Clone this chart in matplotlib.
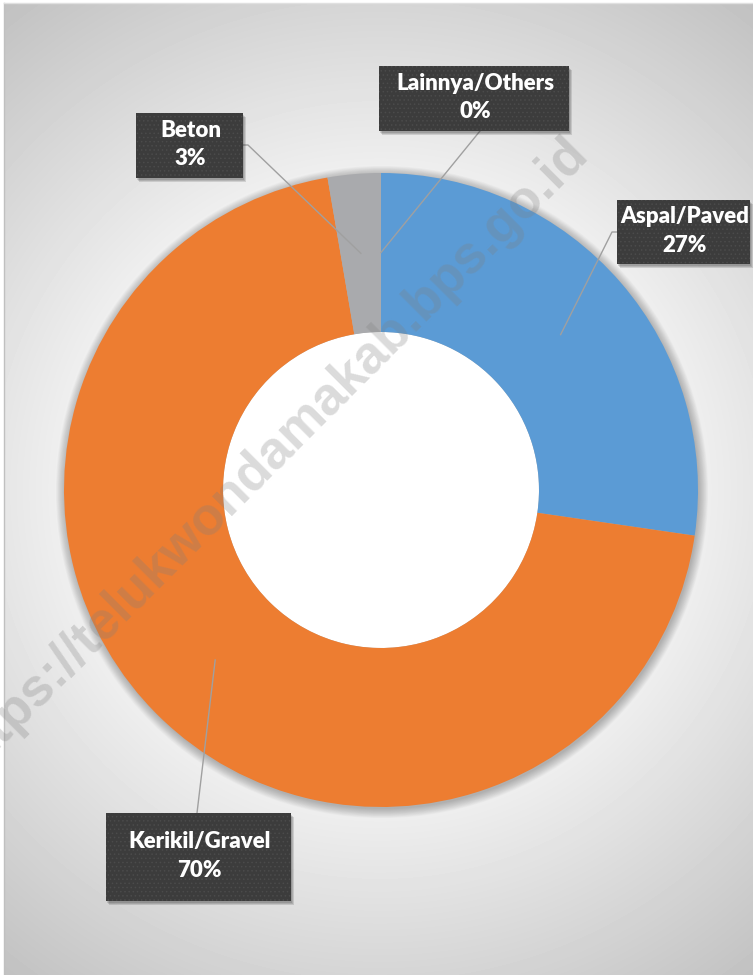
import matplotlib
matplotlib.use("Agg")
import matplotlib.pyplot as plt
import numpy as np
from matplotlib.patches import Rectangle, Circle

# road surface shares (percent), clockwise from 12 o'clock
labels = ["Aspal/Paved", "Kerikil/Gravel", "Beton", "Lainnya/Others"]
shares = [27.3, 70.0, 2.7, 0.0]
colors = ["#5B9BD5", "#ED7D31", "#A9AAAD", "#FFC000"]
watermark = "https://telukwondamakab.bps.go.id"

W, H = 753, 975
plt.rcParams["hatch.linewidth"] = 0.6


def Y(y):
    return H - y


fig = plt.figure(figsize=(W / 100, H / 100), dpi=100)
ax = fig.add_axes([0, 0, 1, 1])

# chart-area background: soft radial grey gradient
gx, gy = np.meshgrid(np.arange(4, W) + 0.5, np.arange(3, H) + 0.5)
t = np.clip((np.hypot(gx - 380, gy - 490) - 300) / 320, 0, 1)
ax.imshow((242 - 50 * t) / 255, cmap="gray", vmin=0, vmax=1, extent=(4, W, 0, Y(3)),
          origin="upper", interpolation="bilinear", zorder=0)
ax.plot([4, 4], [0, Y(3)], color="#c0c0c0", lw=1, zorder=1)
ax.plot([4, W], [Y(3), Y(3)], color="#e0e0e0", lw=1, zorder=1)

cx, cy, R, ring = 381, 490, 317, 159

# soft shadow around the ring
for k in range(14):
    ax.add_patch(Circle((cx + 1, Y(cy) - 2), R + 0.7 * k, color="black", alpha=0.018, lw=0, zorder=1))
ax.add_patch(Circle((cx, Y(cy)), R - ring, color="white", lw=0, zorder=1.5))

wedges, _ = ax.pie(shares, colors=colors, startangle=90, counterclock=False, radius=R,
                   center=(cx, Y(cy)), frame=True,
                   wedgeprops=dict(width=ring, linewidth=0, zorder=2))

# label boxes (px: x0, y0, x1, y1) and leader start points
boxes = [(617, 200, 750, 264), (106, 813, 291, 901), (136, 113, 243, 178), (379, 66, 569, 131)]
starts = [[(617, 232), (612, 232)], [(197, 813)], [(243, 145), (248, 145)], [(480, 131)]]

cum = np.concatenate([[0], np.cumsum(shares)]) / sum(shares)
for i, (lab, val) in enumerate(zip(labels, shares)):
    mid = np.deg2rad(90 - 360 * (cum[i] + cum[i + 1]) / 2)
    ax_, ay_ = cx + (R - ring / 2) * np.cos(mid), Y(cy) + (R - ring / 2) * np.sin(mid)
    pts = [(x, Y(y)) for x, y in starts[i]] + [(ax_, ay_)]
    ax.plot([p[0] for p in pts], [p[1] for p in pts], color="#a0a0a0", lw=1, zorder=4)

    x0, y0, x1, y1 = boxes[i]
    for s in range(3):
        ax.add_patch(Rectangle((x0 + 1 + s, Y(y1) - 2 - s), x1 - x0, y1 - y0, color="black",
                               alpha=0.12, lw=0, zorder=5))
    ax.add_patch(Rectangle((x0, Y(y1)), x1 - x0, y1 - y0, facecolor="#3c3c3c", edgecolor="#4b4b4b",
                           hatch="....", lw=0, zorder=6))
    ax.text((x0 + x1) / 2 + 1, Y((y0 + y1) / 2) + 1, f"{lab}\n{val:.0f}%", ha="center", va="center",
            color="white", fontsize=16, fontweight="heavy", family="Lato", linespacing=1.45, zorder=7)

ax.text(268, Y(457), watermark, rotation=45, rotation_mode="anchor", ha="center", va="center",
        fontsize=38, fontweight="bold", family="Liberation Sans", color="#7f7f7f", alpha=0.28, zorder=3)

ax.set_xlim(0, W)
ax.set_ylim(0, H)
ax.set_aspect("equal")
ax.axis("off")
fig.savefig("out.png", dpi=100, facecolor="white")
